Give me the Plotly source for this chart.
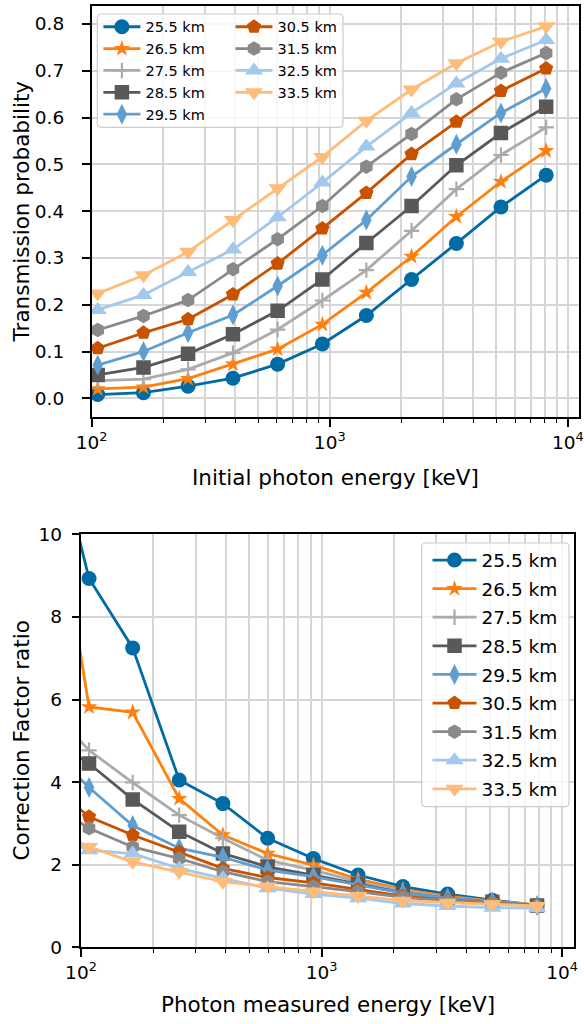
import plotly.graph_objects as go

W, H = 584, 1024
FONT = "DejaVu Sans"

# ---------------- data ----------------
altitudes = ["25.5 km", "26.5 km", "27.5 km", "28.5 km", "29.5 km",
             "30.5 km", "31.5 km", "32.5 km", "33.5 km"]

# top panel: transmission probability vs initial photon energy
energy_initial = [106, 165, 254, 392, 604, 931, 1425, 2206, 3403, 5238, 8110]
trans_255 = [0.008, 0.012, 0.026, 0.043, 0.073, 0.116, 0.177, 0.254, 0.331, 0.409, 0.477]
trans_265 = [0.020, 0.024, 0.042, 0.073, 0.105, 0.158, 0.226, 0.303, 0.388, 0.463, 0.529]
trans_275 = [0.038, 0.041, 0.062, 0.097, 0.147, 0.209, 0.274, 0.358, 0.447, 0.520, 0.579]
trans_285 = [0.050, 0.066, 0.095, 0.137, 0.187, 0.254, 0.332, 0.411, 0.498, 0.567, 0.623]
trans_295 = [0.071, 0.100, 0.140, 0.178, 0.240, 0.306, 0.381, 0.474, 0.543, 0.610, 0.662]
trans_305 = [0.107, 0.140, 0.169, 0.222, 0.288, 0.363, 0.439, 0.522, 0.591, 0.657, 0.705]
trans_315 = [0.146, 0.176, 0.210, 0.276, 0.340, 0.411, 0.495, 0.565, 0.639, 0.696, 0.738]
trans_325 = [0.189, 0.221, 0.270, 0.318, 0.387, 0.461, 0.538, 0.610, 0.673, 0.726, 0.766]
trans_335 = [0.224, 0.263, 0.313, 0.381, 0.449, 0.516, 0.593, 0.660, 0.716, 0.762, 0.795]

# bottom panel: correction factor ratio vs measured photon energy
energy_measured = [70, 108, 164, 256, 389, 597, 925, 1419, 2178, 3343, 5130, 7870]
cf_255 = [13.35, 8.93, 7.25, 4.05, 3.48, 2.64, 2.15, 1.75, 1.47, 1.29, 1.14, 1.02]
cf_265 = [12.62, 5.82, 5.69, 3.60, 2.72, 2.27, 1.99, 1.65, 1.40, 1.24, 1.12, 1.02]
cf_275 = [5.93, 4.77, 3.99, 3.20, 2.64, 2.11, 1.87, 1.59, 1.37, 1.21, 1.11, 1.02]
cf_285 = [5.15, 4.45, 3.58, 2.80, 2.27, 1.95, 1.75, 1.53, 1.32, 1.19, 1.10, 1.01]
cf_295 = [4.92, 3.87, 2.95, 2.40, 2.18, 1.87, 1.71, 1.51, 1.31, 1.19, 1.10, 1.01]
cf_305 = [4.09, 3.16, 2.72, 2.31, 1.91, 1.69, 1.56, 1.40, 1.24, 1.14, 1.08, 1.01]
cf_315 = [3.58, 2.88, 2.43, 2.15, 1.83, 1.59, 1.47, 1.35, 1.21, 1.13, 1.07, 1.00]
cf_325 = [2.81, 2.35, 2.27, 1.91, 1.67, 1.43, 1.29, 1.19, 1.06, 1.00, 0.96, 0.95]
cf_335 = [2.95, 2.43, 2.07, 1.83, 1.59, 1.47, 1.35, 1.24, 1.13, 1.08, 1.04, 1.00]

x_tickvals = [100, 1000, 10000]
x_ticktext = ["10<sup>2</sup>", "10<sup>3</sup>", "10<sup>4</sup>"]
x_minorvals = [200, 300, 400, 500, 600, 700, 800, 900,
               2000, 3000, 4000, 5000, 6000, 7000, 8000, 9000]
y1_tickvals = [0.0, 0.1, 0.2, 0.3, 0.4, 0.5, 0.6, 0.7, 0.8]
y2_tickvals = [0, 2, 4, 6, 8, 10]

trans_series = [trans_255, trans_265, trans_275, trans_285, trans_295,
                trans_305, trans_315, trans_325, trans_335]
cf_series = [cf_255, cf_265, cf_275, cf_285, cf_295,
             cf_305, cf_315, cf_325, cf_335]

# ---------------- style ----------------
colors = ["#006BA4", "#FF800E", "#ABABAB", "#595959", "#5F9ED1",
          "#C85200", "#898989", "#A2C8EC", "#FFBC79"]
symbols = ["circle", "star", "cross-thin", "square", "diamond-tall",
           "pentagon", "hexagon", "triangle-up", "triangle-down"]
msizes = [15, 12.5, 11, 14.5, 15, 15, 14.5, 16, 16]
LW = 2.8


def px_x(x):
    return x / W


def px_y(y):
    return 1 - y / H


def marker(i):
    m = dict(symbol=symbols[i], size=msizes[i], color=colors[i])
    if symbols[i] == "cross-thin":
        m["line"] = dict(color=colors[i], width=2.2)
    else:
        m["line"] = dict(width=0)
    return m


fig = go.Figure()

for i, name in enumerate(altitudes):
    fig.add_trace(go.Scatter(
        x=energy_initial, y=trans_series[i], name=name,
        mode="lines+markers", line=dict(color=colors[i], width=LW),
        marker=marker(i), xaxis="x", yaxis="y",
        legend="legend" if i < 5 else "legend2",
    ))

for i, name in enumerate(altitudes):
    fig.add_trace(go.Scatter(
        x=energy_measured, y=cf_series[i], name=name,
        mode="lines+markers", line=dict(color=colors[i], width=LW),
        marker=marker(i), xaxis="x2", yaxis="y2",
        legend="legend3", legendgroup="g%d" % i,
    ))

grid_color = "#d6d6d6"
common = dict(
    showline=True, linecolor="black", linewidth=1.5, mirror=True,
    ticks="outside", tickwidth=1.5, tickcolor="black",
    showgrid=True, gridcolor=grid_color, gridwidth=1.5, zeroline=False,
    automargin=False,
    tickfont=dict(family=FONT, size=18.5, color="black"),
)
xlog = dict(
    type="log", tickmode="array", tickvals=x_tickvals, ticktext=x_ticktext,
    minor=dict(tickmode="array", tickvals=x_minorvals, ticks="outside",
               ticklen=4, tickwidth=1.2, tickcolor="black",
               showgrid=True, gridcolor=grid_color, gridwidth=1.5),
)

fig.update_layout(
    template="none",
    width=W, height=H, autosize=False,
    margin=dict(l=0, r=0, t=0, b=0, pad=0, autoexpand=False),
    paper_bgcolor="white", plot_bgcolor="white",
    font=dict(family=FONT, color="black"),
    xaxis=dict(**common, **xlog, range=[2.0, 4.047], ticklen=8,
               domain=[px_x(91.7), px_x(579)], anchor="y"),
    yaxis=dict(**common, range=[-0.0406, 0.8385], tickmode="array",
               tickvals=y1_tickvals, tickformat=".1f", ticklen=8,
               ticklabelstandoff=14,
               domain=[px_y(417.3), px_y(6)], anchor="x"),
    xaxis2=dict(**common, **xlog, range=[2.0, 4.0496], ticklen=7.5,
                domain=[px_x(81), px_x(574)], anchor="y2"),
    yaxis2=dict(**common, range=[0, 10], tickmode="array",
                tickvals=y2_tickvals, ticklen=7.5, ticklabelstandoff=6,
                domain=[px_y(947.3), px_y(534.3)], anchor="x2"),
    showlegend=True,
    legend=dict(x=px_x(98.4), y=px_y(10.8), xanchor="left", yanchor="top",
                bgcolor="rgba(0,0,0,0)", borderwidth=0, itemwidth=37,
                font=dict(family=FONT, size=14.5, color="black")),
    legend2=dict(x=px_x(230.5), y=px_y(10.8), xanchor="left", yanchor="top",
                 bgcolor="rgba(0,0,0,0)", borderwidth=0, itemwidth=37,
                 font=dict(family=FONT, size=14.5, color="black")),
    legend3=dict(x=px_x(427.5), y=px_y(541.5), xanchor="left", yanchor="top",
                 bgcolor="rgba(0,0,0,0)", borderwidth=0, itemwidth=44,
                 traceorder="grouped", tracegroupgap=1.55,
                 font=dict(family=FONT, size=18.5, color="black")),
)


def rrect(x0, y0, x1, y1, r):
    X, Y = px_x, px_y
    return (f"M {X(x0 + r)},{Y(y0)} L {X(x1 - r)},{Y(y0)} "
            f"Q {X(x1)},{Y(y0)} {X(x1)},{Y(y0 + r)} "
            f"L {X(x1)},{Y(y1 - r)} Q {X(x1)},{Y(y1)} {X(x1 - r)},{Y(y1)} "
            f"L {X(x0 + r)},{Y(y1)} Q {X(x0)},{Y(y1)} {X(x0)},{Y(y1 - r)} "
            f"L {X(x0)},{Y(y0 + r)} Q {X(x0)},{Y(y0)} {X(x0 + r)},{Y(y0)} Z")


for box in [(97.3, 14, 343, 127.3), (421.7, 543, 569, 806.7)]:
    fig.add_shape(type="path", path=rrect(*box, 4), xref="paper", yref="paper",
                  fillcolor="rgba(255,255,255,0.8)",
                  line=dict(color="#cccccc", width=1.2), layer="above")

title_font = dict(family=FONT, size=21.5, color="black")
annos = [
    ("Initial photon energy [keV]", 335.4, 477, 0),
    ("Transmission probability", 21.7, 211.7, -90),
    ("Photon measured energy [keV]", 327.5, 1004, 0),
    ("Correction Factor ratio", 21.7, 740.8, -90),
]
for text, ax_, ay_, ang in annos:
    fig.add_annotation(text=text, x=px_x(ax_), y=px_y(ay_), xref="paper",
                       yref="paper", showarrow=False, textangle=ang,
                       xanchor="center", yanchor="middle", font=title_font)

fig.write_html("out.html")
